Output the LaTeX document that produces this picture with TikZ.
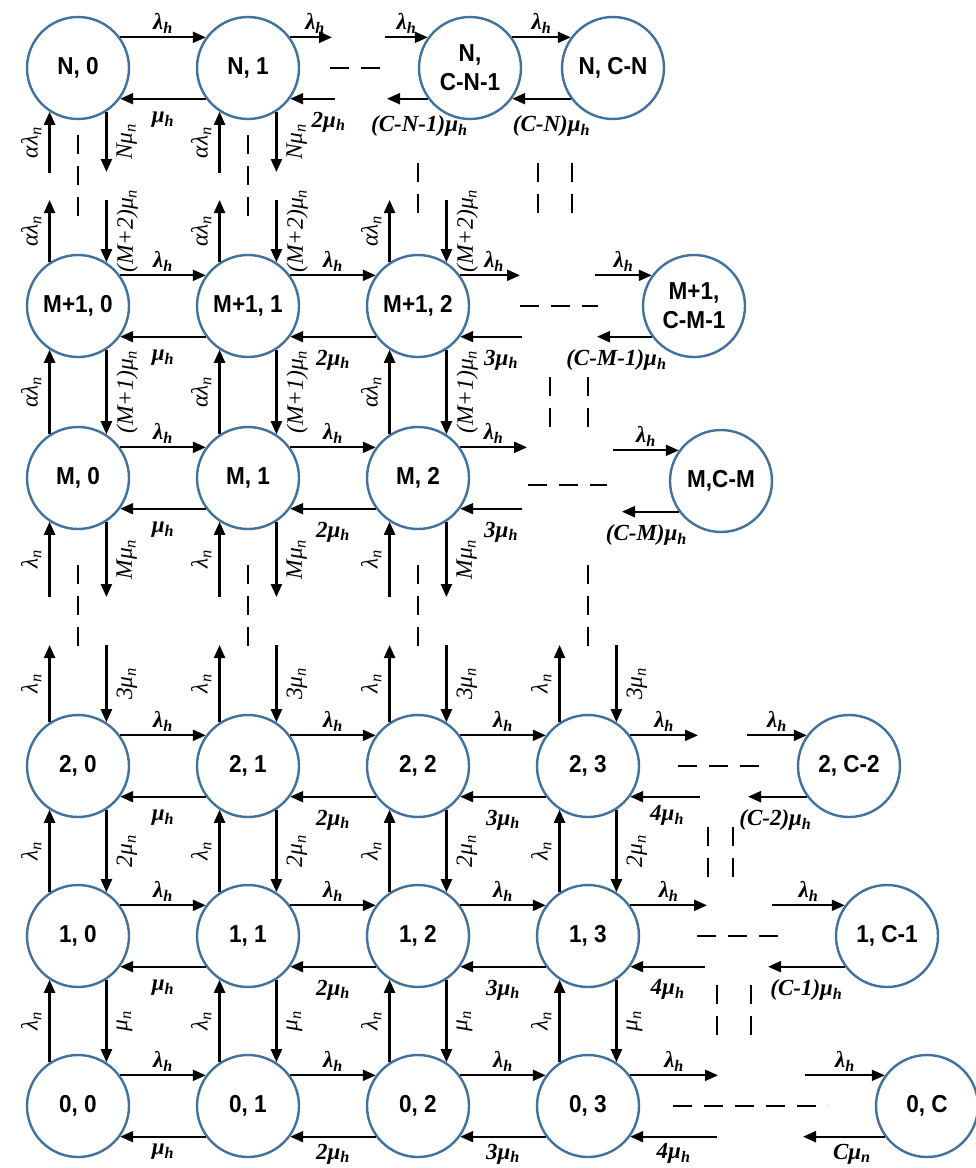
\documentclass[tikz,border=0pt]{standalone}
\usepackage{fontspec}
\setmainfont{Liberation Serif}
\newfontfamily\nodefont[FakeStretch=0.92]{Liberation Sans}
\usetikzlibrary{arrows.meta}
\definecolor{cblue}{RGB}{65,113,156}
\newcommand\rLh{λ\textsubscript{h}}
\newcommand\rLn{λ\textsubscript{n}}
\newcommand\rALn{αλ\textsubscript{n}}
\newcommand\rMh[1]{{\bfseries #1μ\textsubscript{h}}}
\newcommand\rMn[1]{#1μ\textsubscript{n}}
\tikzset{
 st/.style={circle, draw=cblue, line width=2.4pt, fill=white, minimum size=102pt, inner sep=0pt, align=center, font=\nodefont\bfseries\fontsize{24.5}{29}\selectfont},
 arr/.style={line width=2.2pt, -{Triangle[length=13pt,width=11pt]}},
 dsh/.style={line width=2.4pt, dash pattern=on 19pt off 12pt},
 lab/.style={font=\fontsize{23.5}{26}\selectfont\itshape, inner sep=2pt},
 ab/.style={lab, font=\fontsize{23}{26}\selectfont\itshape\bfseries, above, yshift=1pt},
 bl/.style={lab, font=\fontsize{23}{26}\selectfont\itshape\bfseries, below, yshift=-10pt},
 lv/.style={lab, rotate=90, anchor=south, inner ysep=7pt},
 rv/.style={lab, rotate=90, anchor=north, inner ysep=9pt},
}
\newcommand\hpair[5][]{%
 \draw[arr] (#2.36) -- (#3.144) node[ab,midway]{#4};
 \draw[arr] (#3.216) -- (#2.324) node[bl,midway,#1]{#5};}
\newcommand\vpair[4]{%
 \draw[arr] (#1.123) -- (#2.237) node[lv,midway]{#3};
 \draw[arr] (#2.303) -- (#1.57) node[rv,midway]{#4};}
\begin{document}
\begin{tikzpicture}[x=1pt,y=-1pt]
\useasboundingbox (0,0) rectangle (976,1168);
% ---------------- nodes
\node[st] (N0) at (78,68) {N, 0};
\node[st] (N1) at (248,68) {N, 1};
\node[st] (NC1) at (470,68) {N,\\C-N-1};
\node[st] (NC) at (613,68) {N, C-N};
\node[st] (P0) at (78,306) {M+1, 0};
\node[st] (P1) at (248,306) {M+1, 1};
\node[st] (P2) at (418,306) {M+1, 2};
\node[st] (PC) at (694,306) {M+1,\\C-M-1};
\node[st] (M0) at (78,478) {M, 0};
\node[st] (M1) at (248,478) {M, 1};
\node[st] (M2) at (418,478) {M, 2};
\node[st] (MC) at (721,481) {M,C-M};
\node[st] (T0) at (78,766) {2, 0};
\node[st] (T1) at (248,766) {2, 1};
\node[st] (T2) at (418,766) {2, 2};
\node[st] (T3) at (588,766) {2, 3};
\node[st] (TC) at (849,766) {2, C-2};
\node[st] (O0) at (78,936) {1, 0};
\node[st] (O1) at (248,936) {1, 1};
\node[st] (O2) at (418,936) {1, 2};
\node[st] (O3) at (588,936) {1, 3};
\node[st] (OC) at (887,936) {1, C-1};
\node[st] (Z0) at (78,1106) {0, 0};
\node[st] (Z1) at (248,1106) {0, 1};
\node[st] (Z2) at (418,1106) {0, 2};
\node[st] (Z3) at (588,1106) {0, 3};
\node[st] (ZC) at (927,1106) {0, C};
% ---------------- row N
\hpair{N0}{N1}{\rLh}{\rMh{}}
\draw[arr] (N1.36) -- (N1.36 -| 332,0) node[ab,midway,xshift=4]{\rLh};
\draw[arr] (N1.324 -| 335,0) -- (N1.324) node[bl,midway,xshift=16]{\rMh{2}};
\draw[arr] (NC1.144 -| 385,0) -- (NC1.144) node[ab,midway]{\rLh};
\draw[arr] (NC1.216) -- (NC1.216 -| 387,0) node[bl,midway,xshift=12,yshift=-4]{\rMh{(C-N-1)}};
\draw[arr] (NC1.36) -- (NC.144) node[ab,midway]{\rLh};
\draw[arr] (NC.216) -- (NC1.324) node[bl,midway,xshift=10,yshift=-4]{\rMh{(C-N)}};
% ---------------- row M+1
\hpair{P0}{P1}{\rLh}{\rMh{}}
\hpair{P1}{P2}{\rLh}{\rMh{2}}
\draw[arr] (P2.36) -- (P2.36 -| 520,0) node[ab,midway,xshift=4]{\rLh};
\draw[arr] (P2.324 -| 522,0) -- (P2.324) node[bl,midway,xshift=10]{\rMh{3}};
\draw[arr] (PC.144 -| 595,0) -- (PC.144) node[ab,midway]{\rLh};
\draw[arr] (PC.216) -- (PC.216 -| 597,0) node[bl,midway,xshift=-8]{\rMh{(C-M-1)}};
% ---------------- row M
\hpair{M0}{M1}{\rLh}{\rMh{}}
\hpair{M1}{M2}{\rLh}{\rMh{2}}
\draw[arr] (M2.36) -- (M2.36 -| 527,0) node[ab,midway]{\rLh};
\draw[arr] (M2.324 -| 522,0) -- (M2.324) node[bl,midway,xshift=10]{\rMh{3}};
\draw[arr] (MC.144 -| 613,0) -- (MC.144) node[ab,midway]{\rLh};
\draw[arr] (MC.216) -- (MC.216 -| 622,0) node[bl,midway,xshift=-4]{\rMh{(C-M)}};
% ---------------- rows 2,1
\foreach \r in {T,O}{
 \hpair{\r0}{\r1}{\rLh}{\rMh{}}
 \hpair{\r1}{\r2}{\rLh}{\rMh{2}}
 \hpair{\r2}{\r3}{\rLh}{\rMh{3}}
}
% ---------------- row 0 (labels kept inside the page)
\hpair[yshift=6]{Z0}{Z1}{\rLh}{\rMh{}}
\hpair[yshift=6]{Z1}{Z2}{\rLh}{\rMh{2}}
\hpair[yshift=6]{Z2}{Z3}{\rLh}{\rMh{3}}
\draw[arr] (T3.36) -- (T3.36 -| 698,0) node[ab,midway]{\rLh};
\draw[arr] (T3.324 -| 700,0) -- (T3.324) node[bl,midway,xshift=2,yshift=4]{\rMh{4}};
\draw[arr] (TC.144 -| 747,0) -- (TC.144) node[ab,midway]{\rLh};
\draw[arr] (TC.216) -- (TC.216 -| 748,0) node[bl,midway,xshift=-2]{\rMh{(C-2)}};
\draw[arr] (O3.36) -- (O3.36 -| 707,0) node[ab,midway]{\rLh};
\draw[arr] (O3.324 -| 705,0) -- (O3.324) node[bl,midway]{\rMh{4}};
\draw[arr] (OC.144 -| 772,0) -- (OC.144) node[ab,midway]{\rLh};
\draw[arr] (OC.216) -- (OC.216 -| 768,0) node[bl,midway]{\rMh{(C-1)}};
\draw[arr] (Z3.36) -- (Z3.36 -| 718,0) node[ab,midway]{\rLh};
\draw[arr] (Z3.324 -| 717,0) -- (Z3.324) node[bl,midway,yshift=6]{\rMh{4}};
\draw[arr] (ZC.144 -| 805,0) -- (ZC.144) node[ab,midway]{\rLh};
\draw[arr] (ZC.216) -- (ZC.216 -| 803,0) node[bl,midway,xshift=8,yshift=6]{Cμ\textsubscript{n}};
% ---------------- vertical connectors
\foreach \c in {0,1}{
 \draw[arr] (N\c.237 |- 0,173) -- (N\c.237) node[lv,midway]{\rALn};
 \draw[arr] (N\c.303) -- (N\c.303 |- 0,172) node[rv,midway]{\rMn{N}};
}
\foreach \c in {0,1,2}{
 \draw[arr] (P\c.123) -- (P\c.123 |- 0,200) node[lv,midway]{\rALn};
 \draw[arr] (P\c.57 |- 0,200) -- (P\c.57) node[rv,midway]{\rMn{(M+2)}};
 \vpair{M\c}{P\c}{\rALn}{\rMn{(M+1)}}
 \draw[arr] (M\c.237 |- 0,597) -- (M\c.237) node[lv,midway]{\rLn};
 \draw[arr] (M\c.303) -- (M\c.303 |- 0,597) node[rv,midway]{\rMn{M}};
}
\foreach \c in {0,1,2,3}{
 \draw[arr] (T\c.123) -- (T\c.123 |- 0,645) node[lv,midway]{\rLn};
 \draw[arr] (T\c.57 |- 0,645) -- (T\c.57) node[rv,midway]{\rMn{3}};
 \vpair{O\c}{T\c}{\rLn}{\rMn{2}}
 \vpair{Z\c}{O\c}{\rLn}{\rMn{}}
}
% ---------------- dashed continuation marks
\draw[dsh] (78,135) -- (78,228);
\draw[dsh] (248,135) -- (248,228);
\draw[dsh] (418,163) -- (418,218);
\draw[dsh] (538,163) -- (538,218);
\draw[dsh] (572,163) -- (572,218);
\draw[dsh] (330,68) -- (385,68);
\draw[dsh] (520,306) -- (598,306);
\draw[dsh] (550,377) -- (550,432);
\draw[dsh] (588,377) -- (588,432);
\draw[dsh] (528,485) -- (607,485);
\foreach \x in {78,248,418,588}{\draw[dsh] (\x,565) -- (\x,655);}
\draw[dsh] (678,766) -- (768,766);
\draw[dsh] (708,827) -- (708,882);
\draw[dsh] (733,827) -- (733,882);
\draw[dsh] (697,936) -- (785,936);
\draw[dsh] (717,985) -- (717,1042);
\draw[dsh] (751,985) -- (751,1042);
\draw[dsh] (673,1106) -- (828,1106);
\end{tikzpicture}
\end{document}
